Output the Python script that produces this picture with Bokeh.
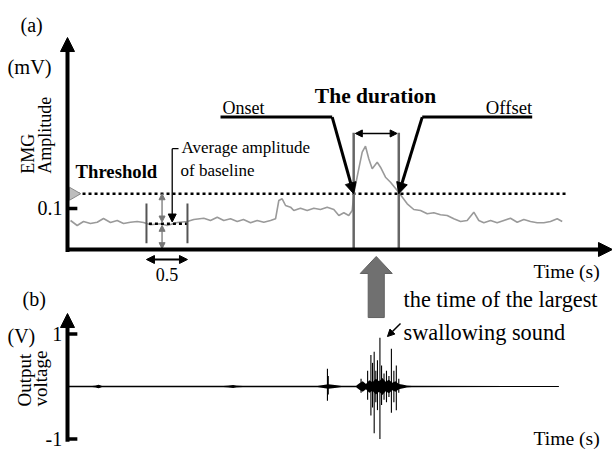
import numpy as np
from bokeh.plotting import figure
from bokeh.models import Range1d, Arrow, NormalHead, Label
from bokeh.embed import file_html
from bokeh.resources import INLINE

# ---------------- data ----------------
# (a) EMG amplitude trace: time (s) and amplitude (mV)
emg_time = [0.037, 0.118, 0.195, 0.280, 0.362, 0.439, 0.524, 0.606, 0.683, 0.768,
            0.850, 0.927, 1.012, 1.134, 1.216, 1.338, 1.460, 1.540, 1.662, 1.744,
            1.826, 1.906, 1.988, 2.070, 2.146, 2.232, 2.313, 2.394, 2.476, 2.537,
            2.577, 2.618, 2.659, 2.720, 2.760, 2.841, 2.923, 3.004, 3.085, 3.167,
            3.248, 3.309, 3.370, 3.430, 3.472, 3.491, 3.552, 3.594, 3.634, 3.674,
            3.716, 3.777, 3.817, 3.878, 3.939, 4.021, 4.061, 4.143, 4.223, 4.305,
            4.387, 4.467, 4.549, 4.630, 4.711, 4.793, 4.874, 4.955, 5.016, 5.077,
            5.159, 5.240, 5.321, 5.402, 5.484, 5.565, 5.646, 5.728, 5.809, 5.890,
            5.972, 6.033]
emg_mv = [0.0707, 0.0585, 0.0683, 0.0634, 0.0666, 0.0756, 0.0659, 0.0707, 0.0634, 0.0666,
          0.0683, 0.0659, 0.0602, 0.0627, 0.0585, 0.0659, 0.0683, 0.0732, 0.0763, 0.0707,
          0.0788, 0.0707, 0.0749, 0.0683, 0.0732, 0.0651, 0.0707, 0.0666, 0.0707, 0.0749,
          0.1195, 0.1237, 0.1073, 0.1032, 0.0951, 0.1007, 0.0951, 0.1007, 0.0976, 0.1032,
          0.0976, 0.0829, 0.0895, 0.0829, 0.0951, 0.1359, 0.1968, 0.2373, 0.2520, 0.2212,
          0.1968, 0.2129, 0.2007, 0.1763, 0.1641, 0.1439, 0.1334, 0.1115, 0.0976, 0.0951,
          0.0871, 0.0895, 0.0846, 0.0829, 0.0749, 0.0683, 0.0707, 0.0910, 0.0707, 0.0651,
          0.0707, 0.0651, 0.0707, 0.0763, 0.0666, 0.0732, 0.0683, 0.0651, 0.0651, 0.0683,
          0.0749, 0.0683]
threshold_mv = 0.136
baseline_mv = 0.063
onset_s = 3.49
offset_s = 4.04
scale_start_s = 0.963
scale_len_s = 0.5
yticks_a = [0.1]
ytick_labels_a = ["0.1"]

# (b) swallowing sound: envelope of the background and individual spikes (V)
sound_env_t = [0.01, 0.30, 0.34, 0.38, 0.42, 0.50, 1.90, 1.96, 2.02, 2.06, 2.14,
               3.05, 3.12, 3.18, 3.26, 3.34, 3.52, 3.56, 3.60, 3.64, 3.68, 3.72,
               3.76, 3.80, 3.84, 3.88, 3.92, 3.96, 4.00, 4.04, 4.08, 4.14, 4.20, 5.99]
sound_env_v = [0.012, 0.012, 0.02, 0.035, 0.015, 0.012, 0.012, 0.02, 0.03, 0.02, 0.012,
               0.012, 0.03, 0.045, 0.03, 0.012, 0.015, 0.06, 0.10, 0.05, 0.12, 0.08,
               0.15, 0.10, 0.16, 0.09, 0.13, 0.07, 0.10, 0.05, 0.04, 0.02, 0.012, 0.008]
spike_t = [3.17, 3.18, 3.58, 3.66, 3.70, 3.72, 3.74, 3.76, 3.78, 3.81, 3.83, 3.86,
           3.89, 3.92, 3.95, 3.98, 4.01, 4.04]
spike_hi = [0.34, 0.20, 0.15, 0.30, 0.60, 0.45, 0.66, 0.30, 0.50, 0.93, 0.40, 0.25,
            0.30, 0.20, 0.72, 0.30, 0.40, 0.15]
spike_lo = [-0.27, -0.15, -0.12, -0.25, -0.55, -0.40, -0.89, -0.30, -0.45, -1.00, -0.35, -0.25,
            -0.30, -0.20, -0.50, -0.30, -0.45, -0.12]
yticks_b = [1, -1]
ytick_labels_b = ["1", "-1"]

# ---------------- figure ----------------
FONT = "Liberation Serif"
PX_PER_S, PX_PER_MV, PX_PER_V = 82.0, 410.0, 52.5
p = figure(width=612, height=449, output_backend="svg", toolbar_location=None,
           x_range=Range1d(-0.8171, 6.6463), y_range=Range1d(-0.4878, 0.6073),
           x_axis_location=None, y_axis_location=None, min_border=0)
p.extra_y_ranges = {"b": Range1d(-1.2, 7.3524)}
p.outline_line_color = None
p.grid.grid_line_color = None
p.background_fill_color = "white"


def lbl(x, y, text, size, bold=False, align="left", base="alphabetic", angle=0.0, rng="default"):
    # compensate the renderer's baseline placement (text drawn ~0.3 em low)
    if base == "alphabetic":
        shift = 0.3 * size
        if angle == 0.0:
            y += shift / (PX_PER_MV if rng == "default" else PX_PER_V)
        else:
            x -= shift / PX_PER_S
    p.add_layout(Label(x=x, y=y, text=text, text_font=FONT,
                       text_font_size=f"{size:.1f}px",
                       text_font_style="bold" if bold else "normal",
                       text_align=align, text_baseline=base, angle=angle,
                       y_range_name=rng, text_color="black"))


def arrow(x0, y0, x1, y1, width=2, color="black", size=10, both=False, rng="default"):
    head = lambda: NormalHead(size=size, fill_color=color, line_color=color, line_width=1)
    p.add_layout(Arrow(x_start=x0, y_start=y0, x_end=x1, y_end=y1, end=head(),
                       start=head() if both else None, line_width=width,
                       line_color=color, y_range_name=rng))


# ---- panel (a) ----
p.line(emg_time, emg_mv, color="#9a9a9a", line_width=1.6)

# threshold and baseline
p.line([0.11, 6.094], [threshold_mv, threshold_mv], line_dash="3 3", line_width=2.5, color="black")
p.line([scale_start_s + 0.03, scale_start_s + scale_len_s], [baseline_mv, baseline_mv],
       line_dash="3 3", line_width=2.5, color="black")
p.scatter([0.07], [threshold_mv], marker="triangle", size=13, angle=-np.pi / 2,
          fill_color="#bdbdbd", line_color="#8a8a8a")

# 0.5 s window
p.segment(x0=[scale_start_s, scale_start_s + scale_len_s], x1=[scale_start_s, scale_start_s + scale_len_s],
          y0=[0.015, 0.015], y1=[0.112, 0.112], line_width=2, color="#555555")
arrow(scale_start_s, -0.0244, scale_start_s + scale_len_s, -0.0244, width=2, size=8, both=True)
gx = scale_start_s + 0.19
arrow(gx, baseline_mv + 0.004, gx, threshold_mv, width=1.3, color="#777777", size=6, both=True)
arrow(gx, 0.002, gx, baseline_mv - 0.004, width=1.3, color="#777777", size=6, both=True)

# average-amplitude leader
p.line([1.354, 1.277], [0.246, 0.246], line_width=1.2, color="black")
arrow(1.277, 0.246, 1.277, baseline_mv + 0.004, width=1.3, size=8)

# onset / offset window
p.segment(x0=[onset_s, offset_s], x1=[onset_s, offset_s], y0=[0, 0], y1=[0.285, 0.285],
          line_width=2.5, color="#666666")
arrow(onset_s + 0.02, 0.283, offset_s - 0.02, 0.283, width=1.5, size=7, both=True)

p.line([1.866, 3.228], [0.323, 0.323], line_width=3, color="black")
arrow(3.228, 0.323, onset_s, threshold_mv, width=3, size=11)
p.line([5.667, 4.326], [0.323, 0.323], line_width=3, color="black")
arrow(4.326, 0.323, offset_s, threshold_mv, width=3, size=11)

# axes (a)
arrow(0, -0.006, 0, 0.517, width=4, size=14)
arrow(-0.01, 0, 6.646, 0, width=4, size=14)
p.segment(x0=[0] * len(yticks_a), x1=[0.12] * len(yticks_a), y0=yticks_a, y1=yticks_a,
          line_width=3.5, color="black")

# big grey arrow linking the panels
cx = (onset_s + offset_s) / 2
tip, hb, bot, hw, sw = -0.017, -0.0585, -0.166, 0.195, 0.098
p.patch([cx, cx + hw, cx + sw, cx + sw, cx - sw, cx - sw, cx - hw],
        [tip, hb, hb, bot, bot, hb, hb], fill_color="#707070", line_color="#606060")

# labels (a)
lbl(-0.573, 0.532, "(a)", 20)
lbl(-0.732, 0.429, "(mV)", 20.4)
lbl(-0.415, 0.185, "EMG", 18, angle=np.pi / 2)
lbl(-0.207, 0.185, "Amplitude", 18, angle=np.pi / 2)
for v, t in zip(yticks_a, ytick_labels_a):
    lbl(-0.061, v, t, 20, align="right", base="middle")
lbl(0.098, 0.176, "Threshold", 18.7, bold=True)
lbl(1.39, 0.237, "Average amplitude", 17)
lbl(1.378, 0.180, "of baseline", 17)
lbl(1.89, 0.332, "Onset", 18)
lbl(5.667, 0.332, "Offset", 18.7, align="right")
lbl(3.756, 0.3585, "The duration", 21.5, bold=True, align="center")
lbl(scale_start_s + scale_len_s / 2, -0.073, "0.5", 18, align="center")
lbl(5.683, -0.068, "Time (s)", 19.6)

# ---- panel (b) ----
p.line([sound_env_t[0], sound_env_t[-1]], [0, 0], line_width=1, color="black", y_range_name="b")
p.varea(x=sound_env_t, y1=[-a for a in sound_env_v], y2=sound_env_v, fill_color="black",
        y_range_name="b")
p.segment(x0=spike_t, x1=spike_t, y0=spike_lo, y1=spike_hi, line_width=1.1, color="black",
          y_range_name="b")

arrow(0, -1.05, 0, 1.39, width=4, size=14, rng="b")
p.segment(x0=[0] * len(yticks_b), x1=[0.12] * len(yticks_b), y0=yticks_b, y1=yticks_b,
          line_width=3.5, color="black", y_range_name="b")
for v, t in zip(yticks_b, ytick_labels_b):
    lbl(-0.065, v, t, 20, align="right", base="middle", rng="b")

lbl(-0.548, 1.543, "(b)", 20, rng="b")
lbl(-0.732, 0.84, "(V)", 20, rng="b")
lbl(-0.451, -0.381, "Output", 19, angle=np.pi / 2, rng="b")
lbl(-0.256, -0.381, "voltage", 19, angle=np.pi / 2, rng="b")
lbl(4.098, 1.524, "the time of the largest", 22.3, rng="b")
lbl(4.098, 0.895, "swallowing  sound", 22.3, rng="b")
arrow(4.061, 1.2, 3.902, 0.952, width=1.5, size=7, rng="b")
lbl(5.683, -1.105, "Time (s)", 19.6, rng="b")

open("out.html", "w").write(file_html(p, INLINE))
